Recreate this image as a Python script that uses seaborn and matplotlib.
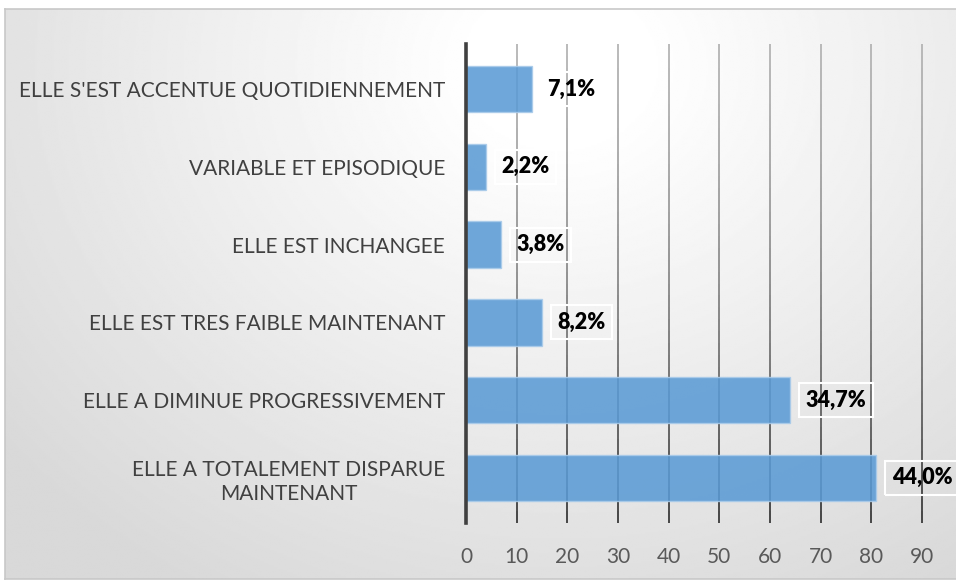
import numpy as np
import pandas as pd
import matplotlib
matplotlib.use("Agg")
import matplotlib.pyplot as plt
import matplotlib.colors as mcolors
import seaborn as sns

# data (counts, labels are the printed percentages)
categories = [
    "ELLE S'EST ACCENTUE QUOTIDIENNEMENT",
    "VARIABLE ET EPISODIQUE",
    "ELLE EST INCHANGEE",
    "ELLE EST TRES FAIBLE MAINTENANT",
    "ELLE A DIMINUE PROGRESSIVEMENT",
    "ELLE A TOTALEMENT DISPARUE\nMAINTENANT",
]
counts = [13, 4, 7, 15, 64, 81]
pct_labels = ["7,1%", "2,2%", "3,8%", "8,2%", "34,7%", "44,0%"]
x_ticks = [0, 10, 20, 30, 40, 50, 60, 70, 80, 90]

df = pd.DataFrame({"cat": categories, "n": counts})

sns.set_theme(style="white")
plt.rcParams["font.family"] = ["Lato", "DejaVu Sans"]

fig = plt.figure(figsize=(9.56, 5.81), dpi=100)

# chart-area background: soft radial gradient with a thin gray frame
bg = fig.add_axes([5 / 956, 0.003, 1.0, (581 - 11) / 581])
yy, xx = np.mgrid[0:1:300j, 0:1:500j]
dist = np.sqrt(((xx - 0.58) / 0.7) ** 2 + ((yy - 0.1) / 1.0) ** 2)
shade = np.clip(1.02 - 0.16 * dist, 0.85, 1.0)
bg.imshow(shade, cmap="gray", vmin=0, vmax=1, aspect="auto",
          extent=[0, 1, 1, 0], interpolation="bilinear")
bg.set_xticks([])
bg.set_yticks([])
for s in bg.spines.values():
    s.set_color("#c8c8c8")
    s.set_linewidth(1.2)

ax = fig.add_axes([466 / 956, 1 - 523 / 581, (922 - 466) / 956, (523 - 44) / 581])
ax.patch.set_alpha(0)

sns.barplot(data=df, x="n", y="cat", orient="h", color="#5B9BD5",
            saturation=1, alpha=0.88, width=0.6, edgecolor="#a9cbea",
            linewidth=1.0, ax=ax, zorder=3)

ax.set_xlim(0, 90)
ax.set_xticks(x_ticks)
ax.set_xlabel("")
ax.set_ylabel("")

# vertical gridlines, lighter at the top and darker near the bottom
nseg = 40
edges = np.linspace(0, 1, nseg + 1)
light = np.array(mcolors.to_rgb("#b4b4b4"))
dark = np.array(mcolors.to_rgb("#3a3a3a"))
for t in x_ticks[1:]:
    for i in range(nseg):
        f = (1 - edges[i]) ** 1.5
        c = light * (1 - f) + dark * f
        ax.plot([t, t], [edges[i], edges[i + 1]], color=c, lw=1.3,
                transform=ax.get_xaxis_transform(), zorder=2,
                solid_capstyle="butt", clip_on=False)

for s in ["top", "right", "bottom"]:
    ax.spines[s].set_visible(False)
ax.spines["left"].set_color("#404040")
ax.spines["left"].set_linewidth(2.6)
ax.spines["left"].set_zorder(5)

ax.tick_params(axis="y", length=0, pad=15, labelsize=15, labelcolor="#404040")
ax.tick_params(axis="x", length=0, pad=17, labelsize=15, labelcolor="#595959")
for lab in ax.get_yticklabels():
    lab.set_multialignment("center")
    lab.set_linespacing(1.25)

for i, (v, lab) in enumerate(zip(counts, pct_labels)):
    ax.annotate(lab, xy=(v, i), xytext=(11, 0), textcoords="offset points",
                ha="left", va="center", fontsize=15.5, fontweight="heavy",
                color="black", zorder=6, annotation_clip=False,
                bbox=dict(boxstyle="square,pad=0.3", facecolor="none",
                          edgecolor="white", linewidth=1.5))

fig.savefig("out.png", dpi=100)
